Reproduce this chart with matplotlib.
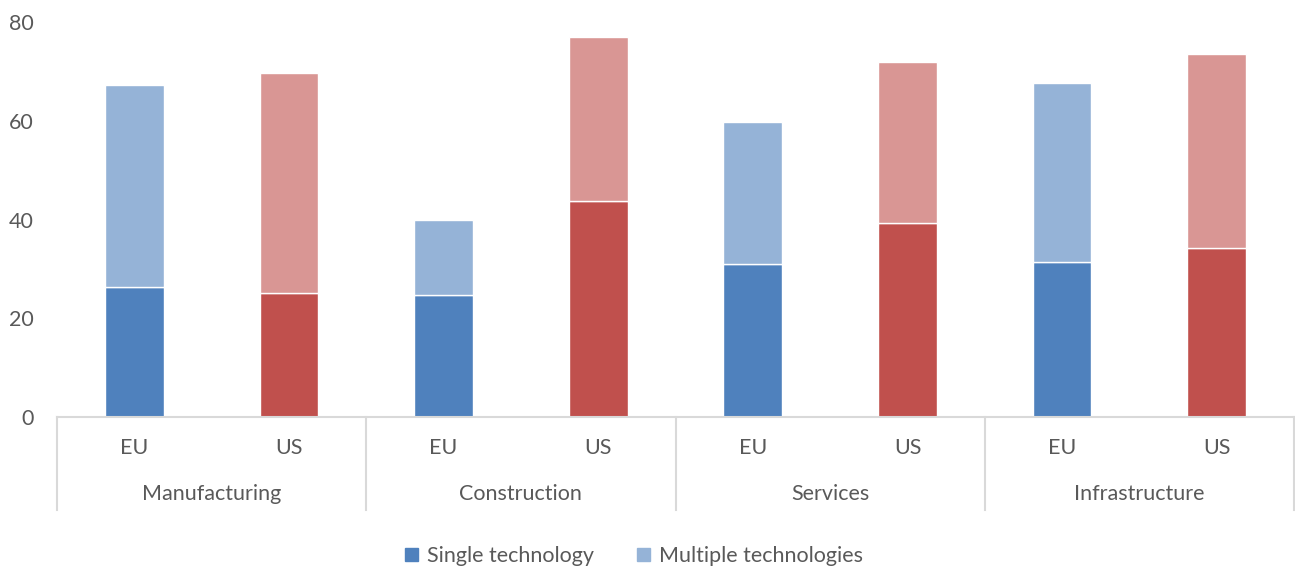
import matplotlib
matplotlib.use("Agg")
import matplotlib.pyplot as plt
from matplotlib.patches import Patch
import matplotlib.transforms as mtransforms

sectors = ["Manufacturing", "Construction", "Services", "Infrastructure"]
regions = ["EU", "US"]
single_eu = [26.3, 24.7, 31.0, 31.4]
total_eu = [67.2, 39.9, 59.7, 67.6]
single_us = [25.1, 43.7, 39.3, 34.2]
total_us = [69.6, 76.9, 71.9, 73.5]
yticks = [0, 20, 40, 60, 80]

c_eu_single, c_eu_multi = "#4F81BD", "#95B3D7"
c_us_single, c_us_multi = "#C0504D", "#D99694"
txt = "#595959"
line_c = "#D9D9D9"

plt.rcParams['font.family'] = ['Lato', 'DejaVu Sans']
fs = 15.5

fig = plt.figure(figsize=(12.95, 5.66), dpi=100)
ax = fig.add_axes([57/1295, 1-417/566, (1294-57)/1295, (417-22)/566])

w = 0.38
for i in range(len(sectors)):
    xe = 2*i + 0.5
    xu = 2*i + 1.5
    me = total_eu[i] - single_eu[i]
    mu = total_us[i] - single_us[i]
    ax.bar(xe, single_eu[i], w, color=c_eu_single, edgecolor="white", linewidth=1)
    ax.bar(xe, me, w, bottom=single_eu[i], color=c_eu_multi, edgecolor="white", linewidth=1)
    ax.bar(xu, single_us[i], w, color=c_us_single, edgecolor="white", linewidth=1)
    ax.bar(xu, mu, w, bottom=single_us[i], color=c_us_multi, edgecolor="white", linewidth=1)

ax.set_xlim(0, 8)
ax.set_ylim(0, 80)
ax.set_yticks(yticks)
ax.set_yticklabels([str(t) for t in yticks], fontsize=fs, color=txt)
ax.tick_params(axis='y', length=0, pad=17)
ax.set_xticks([])
for s in ["left", "right", "top"]:
    ax.spines[s].set_visible(False)
ax.spines["bottom"].set_color(line_c)
ax.spines["bottom"].set_linewidth(1.5)

trans = mtransforms.blended_transform_factory(ax.transData, ax.transAxes)
h = (417-22)
def ay(py):
    return (417 - py) / h

for k in range(5):
    ax.plot([2*k, 2*k], [0, ay(510)], transform=trans, color=line_c, lw=1.5, clip_on=False)

for i, sec in enumerate(sectors):
    for j, r in enumerate(regions):
        ax.text(2*i + j + 0.5, ay(448), r, transform=trans, ha="center", va="center",
                fontsize=fs, color=txt)
    ax.text(2*i + 1, ay(494), sec, transform=trans, ha="center", va="center",
            fontsize=fs, color=txt)

handles = [Patch(color=c_eu_single, label="Single technology"),
           Patch(color=c_eu_multi, label="Multiple technologies")]
fig.legend(handles=handles, loc="center", bbox_to_anchor=(634/1295, 1-556/566), ncol=2,
           frameon=False, fontsize=fs, labelcolor=txt, handlelength=0.6, handleheight=0.6,
           handletextpad=0.4, columnspacing=2.0)

fig.savefig("out.png", dpi=100)
